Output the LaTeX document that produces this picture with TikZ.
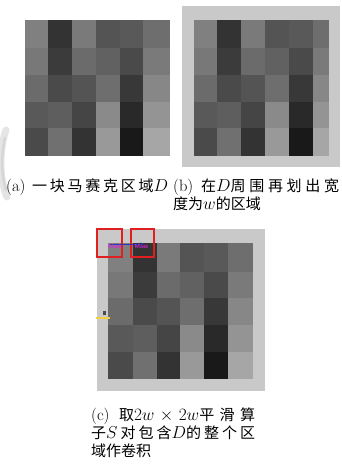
\documentclass[tikz,border=0pt]{standalone}
\usepackage{fontspec}
\newfontfamily\cjk[Scale=0.91]{Noto Sans CJK SC}
\usetikzlibrary{arrows.meta}
\definecolor{framegray}{HTML}{C9C9C9}
\definecolor{arrowblue}{HTML}{3333C0}
\definecolor{maskmag}{HTML}{E020E0}
\definecolor{markyellow}{HTML}{F0D040}
\definecolor{boxred}{HTML}{E02020}
\newcommand{\spreadline}[2]{\hbox to #1{#2}}
\def\shadelist{{50,80,52,67,65,57, 53,77,58,62,71,52, 58,71,67,57,78,47, 65,63,73,46,84,42, 71,56,80,40,90,35}}
\def\axa{{25,48.3,71.7,95.7,120,143.3,169}}
\def\aya{{20,47.7,75,101.7,128.3,155}}
\def\axb{{193.7,217,241,265.3,289.3,312.7,328.3}}
\def\ayb{{20,47.7,75,101.7,128.3,155}}
\def\axc{{108.3,132.7,156.7,180,204,227.7,252.3}}
\def\ayc{{243.3,271.7,298.3,325,351.7,378.3}}
\newcommand{\drawmosaic}[2]{%
  \foreach \r in {0,...,4}{%
    \foreach \c in {0,...,5}{%
      \pgfmathsetmacro{\xl}{#1[\c]}%
      \pgfmathsetmacro{\xr}{#1[\c+1]}%
      \pgfmathsetmacro{\yt}{#2[\r]}%
      \pgfmathsetmacro{\yb}{#2[\r+1]}%
      \pgfmathtruncatemacro{\k}{\shadelist[\r*6+\c]}%
      \fill[black!\k, draw=black!\k, line width=0.2pt] (\xl,\yt) rectangle (\xr,\yb);
    }}}
\tikzset{
  captext/.style={inner sep=0pt, anchor=base west, font=\fontsize{16.5}{18}\selectfont},
  redbox/.style={draw=boxred, line width=1.2pt, inner sep=0pt},
  masktext/.style={inner sep=0pt, text=maskmag, font=\fontsize{5.5}{6}\selectfont\bfseries\sffamily}
}
\begin{document}
\begin{tikzpicture}[x=1pt,y=-1pt]
\useasboundingbox (0,0) rectangle (342,464);
\fill[white] (0,0) rectangle (342,464);
% faint artifact at left edge
\draw[black!10, line width=7pt, line cap=round] (6,130) .. controls (-1,150) and (-1,178) .. (7,197);
\draw[black!16, line width=2.5pt, line cap=round] (5,138) .. controls (1,155) and (1,175) .. (6,190);
% panel (a)
\drawmosaic{\axa}{\aya}
% panel (b)
\fill[framegray] (182,6) rectangle (340,167);
\drawmosaic{\axb}{\ayb}
% panel (c)
\fill[framegray] (97,229) rectangle (265,391);
\drawmosaic{\axc}{\ayc}
\node[redbox, minimum width=25pt, minimum height=28pt] (box1) at (109.5,243) {};
\node[redbox, minimum width=23pt, minimum height=28pt] (box2) at (142.5,243) {};
\coordinate (arrS) at ([yshift=-1pt]box1.center);
\coordinate (arrE) at ([yshift=-1pt,xshift=1pt]box2.center);
\draw[arrowblue, line width=0.7pt, -{Stealth[length=3pt,width=3pt]}] (arrS) -- (arrE);
\node[masktext] (m1) at (115,246.5) {Mask};
\node[masktext] (m2) at (141.5,246.5) {Mask};
\fill[black!70] (102.5,311) rectangle (106,314.5);
\draw[markyellow, line width=1.2pt] (96,318) -- (110,318);
% captions
\node[captext] (capa) at (6,191) {\spreadline{162pt}{(a)\hskip 4pt plus 1fil{\cjk 一\hfil 块\hfil 马\hfil 赛\hfil 克\hfil 区\hfil 域}$D$}};
\node[captext] (capb1) at (173,191) {\spreadline{166pt}{(b)\hskip 4pt plus 1fil{\cjk 在}$D${\cjk 周\hfil 围\hfil 再\hfil 划\hfil 出\hfil 宽}}};
\node[captext] (capb2) at (173,209) {{\cjk 度为}$w${\cjk 的区域}};
\node[captext] (capc1) at (91,420) {\spreadline{164pt}{(c)\hskip 4pt plus 1fil{\cjk 取}$2w$\hfil$\times$\hfil$2w${\cjk 平\hfil 滑\hfil 算}}};
\node[captext] (capc2) at (91,438) {\spreadline{164pt}{{\cjk 子}$S$\hfil{\cjk 对\hfil 包\hfil 含}$D${\cjk 的\hfil 整\hfil 个\hfil 区}}};
\node[captext] (capc3) at (91,456) {{\cjk 域作卷积}};
\end{tikzpicture}
\end{document}
